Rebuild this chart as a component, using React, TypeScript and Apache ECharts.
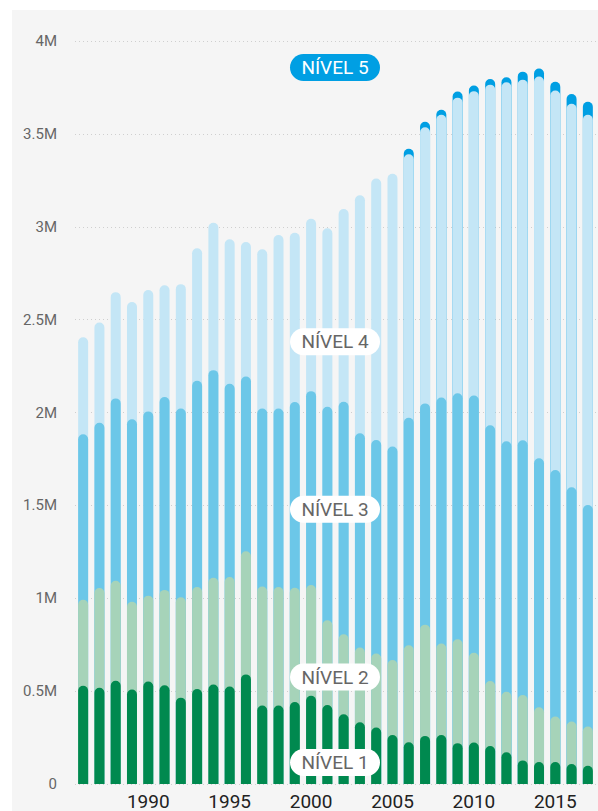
import React, { useEffect, useRef } from "react";
import * as echarts from "echarts";

const years = [
  "1986","1987","1988","1989","1990","1991","1992","1993","1994","1995","1996",
  "1997","1998","1999","2000","2001","2002","2003","2004","2005","2006","2007",
  "2008","2009","2010","2011","2012","2013","2014","2015","2016","2017",
];

// thousands of students per level
const nivel1 = [529,518,556,509,552,532,465,511,535,525,590,422,423,441,475,425,375,332,304,264,225,259,264,220,223,205,171,127,118,118,107,98];
const nivel2 = [463,537,538,472,462,513,540,549,575,589,663,641,637,615,596,456,431,403,398,403,522,599,492,559,483,349,326,352,295,245,229,211];
const nivel3 = [891,890,982,982,992,1038,1017,1111,1118,1041,941,958,961,1000,1044,1150,1252,1153,1150,1150,1225,1191,1325,1324,1386,1377,1348,1371,1341,1327,1262,1193];
const nivel4 = [522,540,572,632,653,602,669,713,794,778,724,858,935,912,928,961,1037,1282,1408,1468,1418,1486,1522,1592,1638,1834,1933,1942,2055,2043,2064,2101];
const nivel5 = [0,0,0,0,0,0,0,0,0,0,0,0,0,0,0,0,0,0,0,0,30,30,27,33,30,30,27,43,43,47,53,70];

const levelNames = ["NÍVEL 1", "NÍVEL 2", "NÍVEL 3", "NÍVEL 4", "NÍVEL 5"];
const yTicks = ["0", "0.5M", "1M", "1.5M", "2M", "2.5M", "3M", "3.5M", "4M"];

const colors = ["#00894f", "#a6d3b9", "#6cc7e8", "#c4e6f6", "#009fe3"];

export default function App() {
  const ref = useRef<HTMLDivElement>(null);

  useEffect(() => {
    document.body.style.margin = "0";
    if (!ref.current) return;
    const chart = echarts.init(ref.current, undefined, { renderer: "svg" });

    const levels = [nivel1, nivel2, nivel3, nivel4, nivel5];
    const cum: (number | null)[][] = levels.map(() => []);
    for (let i = 0; i < years.length; i++) {
      let s = 0;
      for (let l = 0; l < levels.length; l++) {
        s += levels[l][i] * 1000;
        cum[l][i] = levels[l][i] === 0 && l === 4 ? null : s;
      }
    }

    const series: any[] = [];
    for (let l = 4; l >= 0; l--) {
      series.push({
        type: "bar",
        name: levelNames[l],
        data: cum[l],
        barWidth: 10,
        barGap: "-100%",
        z: 2 + (4 - l),
        itemStyle: { color: colors[l], borderRadius: [5, 5, 0, 0] },
        silent: true,
      });
    }

    const pill = (label: string, cy: number, dark: boolean) => ({
      type: "rect",
      shape: { x: 290, y: cy - 13.5, width: 90, height: 27, r: 13.5 },
      style: { fill: dark ? "#009fe3" : "#ffffff" },
      z: 100,
      textContent: {
        style: {
          text: label,
          fill: dark ? "#ffffff" : "#666666",
          font: "19px Roboto",
        },
        z: 101,
      },
      textConfig: { position: "inside" },
    });

    chart.setOption({
      animation: false,
      grid: { left: 75, right: 2, top: 41, bottom: 25 },
      graphic: [
        {
          type: "rect",
          shape: { x: 12, y: 10, width: 586, height: 801 },
          style: { fill: "#f5f5f5" },
          z: -10,
          silent: true,
        },
        pill("NÍVEL 5", 67.5, true),
        pill("NÍVEL 4", 341.7, false),
        pill("NÍVEL 3", 509.3, false),
        pill("NÍVEL 2", 677, false),
        pill("NÍVEL 1", 762.5, false),
      ],
      xAxis: {
        type: "category",
        data: years,
        boundaryGap: true,
        axisLine: { show: false },
        axisTick: { show: false },
        axisLabel: {
          interval: (_i: number, v: string) => Number(v) % 5 === 0,
          color: "#222222",
          fontFamily: "'Liberation Sans Narrow', Roboto",
          fontSize: 19,
          margin: 8,
        },
      },
      yAxis: {
        type: "value",
        min: 0,
        max: 4000000,
        interval: 500000,
        axisLine: { show: false },
        axisTick: { show: false },
        axisLabel: {
          formatter: (v: number) => yTicks[Math.round(v / 500000)],
          color: "#666666",
          fontFamily: "Roboto",
          fontSize: 15,
          margin: 18,
        },
        splitLine: {
          lineStyle: { color: "#cfcfcf", type: [1, 3], width: 1 },
        },
      },
      series,
    });

    return () => chart.dispose();
  }, []);

  return <div ref={ref} style={{ width: 598, height: 811 }} />;
}
